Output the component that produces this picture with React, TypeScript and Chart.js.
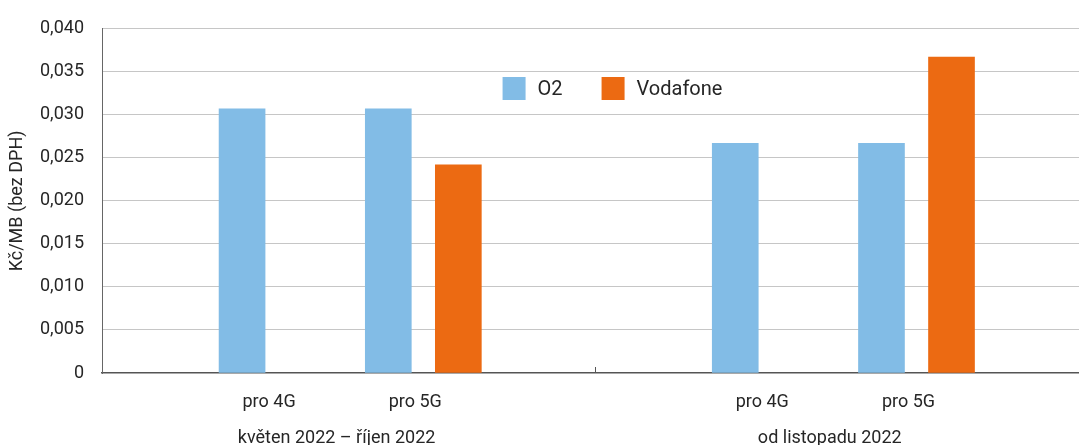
import React, { useEffect, useRef } from "react";
import { Chart, registerables } from "chart.js";

Chart.register(...registerables);

// ---------- data ----------
const groupLabels = ["květen 2022 – říjen 2022", "od listopadu 2022"];
const categoryLabels = ["pro 4G", "pro 5G", "pro 4G", "pro 5G"];
const categoryGroup = [0, 0, 1, 1];
const categoryIndexInGroup = [0, 1, 0, 1];
const o2Values = [0.0307, 0.0307, 0.0267, 0.0267];
const vodafoneValues: (number | null)[] = [null, 0.0242, null, 0.0367];
const yTickLabels = ["0", "0,005", "0,010", "0,015", "0,020", "0,025", "0,030", "0,035", "0,040"];
const seriesNames = ["O2", "Vodafone"];
const yAxisTitle = "Kč/MB (bez DPH)";

// ---------- layout / style ----------
const FONT = "Roboto, 'Noto Sans', sans-serif";
const TEXT = "#262626";
const O2_COLOR = "#82BCE6";
const VODAFONE_COLOR = "#EC6A12";
const GRID = "#C6C6C6";
const GROUP_SPAN = 2;
const CAT_START = 0.71;
const CAT_STEP = 0.593;
const BAR_SHIFT = 0.142;
const X_MAX = 3.962;
const LEGEND_CENTER_X = 612.5;
const LEGEND_TOP = 77;
const LEGEND_BOX = 23;
const LEGEND_TEXT_GAP = 12;
const LEGEND_ITEM_GAP = 39;

const catX = (i: number) => categoryGroup[i] * GROUP_SPAN + CAT_START + categoryIndexInGroup[i] * CAT_STEP;
const yTickValues = yTickLabels.map((l) => parseFloat(l.replace(",", ".")));

const legendPlugin = {
  id: "customLegend",
  afterDraw(chart: any) {
    const ctx = chart.ctx as CanvasRenderingContext2D;
    const items = chart.data.datasets.map((ds: any) => ({ label: ds.label, color: ds.backgroundColor }));
    ctx.save();
    ctx.font = `20px ${FONT}`;
    const widths = items.map((it: any) => LEGEND_BOX + LEGEND_TEXT_GAP + ctx.measureText(it.label).width);
    const total = widths.reduce((a: number, b: number) => a + b, 0) + LEGEND_ITEM_GAP * (items.length - 1);
    let x = LEGEND_CENTER_X - total / 2;
    items.forEach((it: any, i: number) => {
      ctx.fillStyle = it.color;
      ctx.fillRect(x, LEGEND_TOP, LEGEND_BOX, LEGEND_BOX);
      ctx.fillStyle = TEXT;
      ctx.textBaseline = "middle";
      ctx.textAlign = "left";
      ctx.fillText(it.label, x + LEGEND_BOX + LEGEND_TEXT_GAP, LEGEND_TOP + LEGEND_BOX / 2 + 1);
      x += widths[i] + LEGEND_ITEM_GAP;
    });
    ctx.restore();
  },
};

const separatorPlugin = {
  id: "groupSeparator",
  afterDraw(chart: any) {
    const ctx = chart.ctx as CanvasRenderingContext2D;
    const xs = chart.scales.x;
    const bottom = chart.chartArea.bottom;
    ctx.save();
    ctx.strokeStyle = "#555";
    ctx.lineWidth = 1;
    for (let g = 1; g < groupLabels.length; g++) {
      const px = Math.round(xs.getPixelForValue(g * GROUP_SPAN)) + 0.5;
      ctx.beginPath();
      ctx.moveTo(px, bottom - 6);
      ctx.lineTo(px, bottom);
      ctx.stroke();
    }
    ctx.restore();
  },
};

export default function App() {
  const canvasRef = useRef<HTMLCanvasElement | null>(null);

  useEffect(() => {
    if (!canvasRef.current) return;
    const o2Data = o2Values.map((v, i) => ({ x: catX(i) - BAR_SHIFT, y: v }));
    const vfData = vodafoneValues
      .map((v, i) => (v === null ? null : { x: catX(i) + BAR_SHIFT, y: v }))
      .filter((p) => p !== null);

    const chart = new Chart(canvasRef.current, {
      type: "bar",
      data: {
        datasets: [
          { label: seriesNames[0], data: o2Data as any, backgroundColor: O2_COLOR, borderWidth: 0, barThickness: 46, grouped: false } as any,
          { label: seriesNames[1], data: vfData as any, backgroundColor: VODAFONE_COLOR, borderWidth: 0, barThickness: 46, grouped: false } as any,
        ],
      },
      options: {
        animation: false,
        responsive: false,
        maintainAspectRatio: false,
        layout: { padding: { top: 21, left: 0, right: 0, bottom: 0 } },
        plugins: { legend: { display: false }, tooltip: { enabled: false } },
        scales: {
          x: {
            type: "linear",
            position: "bottom",
            offset: false,
            min: 0,
            max: X_MAX,
            afterBuildTicks: (s: any) => {
              s.ticks = categoryLabels.map((_, i) => ({ value: catX(i) }));
            },
            afterFit: (s: any) => {
              s.height = 41;
            },
            ticks: {
              callback: (_v: any, i: number) => categoryLabels[i],
              autoSkip: false,
              maxRotation: 0,
              minRotation: 0,
              padding: 19,
              labelOffset: -8,
              color: TEXT,
              font: { family: FONT, size: 18 },
            },
            grid: { offset: false, drawOnChartArea: false, drawTicks: false },
            border: { display: true, color: "#555", width: 1.5 },
          } as any,
          x2: {
            type: "linear",
            position: "bottom",
            offset: false,
            weight: 1,
            min: 0,
            max: X_MAX,
            afterBuildTicks: (s: any) => {
              s.ticks = groupLabels.map((_, g) => ({ value: g * GROUP_SPAN + GROUP_SPAN / 2 }));
            },
            afterFit: (s: any) => {
              s.height = 31;
            },
            ticks: {
              callback: (_v: any, i: number) => groupLabels[i],
              autoSkip: false,
              maxRotation: 0,
              minRotation: 0,
              padding: 14,
              labelOffset: -12,
              color: TEXT,
              font: { family: FONT, size: 18 },
            },
            grid: { display: false, offset: false, drawTicks: false },
            border: { display: false },
          } as any,
          y: {
            min: 0,
            max: 0.04,
            afterBuildTicks: (s: any) => {
              s.ticks = yTickValues.map((v) => ({ value: v }));
            },
            afterFit: (s: any) => {
              s.width = 102;
            },
            ticks: {
              callback: (_v: any, i: number) => yTickLabels[i],
              padding: 18,
              color: TEXT,
              font: { family: FONT, size: 18 },
            },
            grid: {
              drawTicks: false,
              lineWidth: 1,
              color: (ctx: any) => (ctx.tick && ctx.tick.value === 0 ? "rgba(0,0,0,0)" : GRID),
            },
            border: { display: true, color: "#666", width: 1 },
            title: {
              display: true,
              text: yAxisTitle,
              color: TEXT,
              font: { family: FONT, size: 18 },
              padding: { top: 7, bottom: 0 },
            },
          } as any,
        },
      },
      plugins: [legendPlugin, separatorPlugin],
    });
    return () => chart.destroy();
  }, []);

  return (
    <div style={{ position: "absolute", left: 0, top: 0, width: 1079, height: 445, background: "#fff" }}>
      <canvas ref={canvasRef} width={1079} height={445} style={{ display: "block" }} />
    </div>
  );
}
